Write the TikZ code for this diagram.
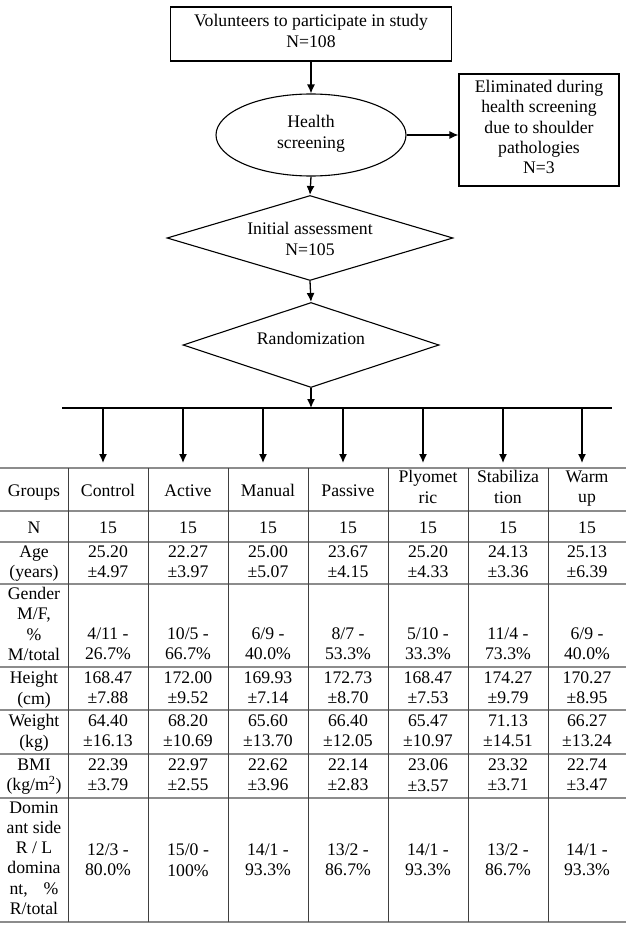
\documentclass[tikz,border=0pt]{standalone}
\usepackage{fontspec}
\setmainfont{Liberation Serif}
\usetikzlibrary{shapes.geometric,arrows.meta,calc}
\begin{document}
\begin{tikzpicture}[x=1pt,y=-1pt,
  every node/.style={font=\fontsize{17.7}{20.3}\selectfont, align=center, inner sep=0pt,
    execute at begin node={\rule{0pt}{18.2pt}}, execute at end node=\strut},
  boxed/.style={draw, line width=1.1pt},
  arr/.style={line width=1.3pt, -{Latex[length=9pt,width=8pt]}},
  busline/.style={line width=1.3pt},
  hline/.style={draw=black!45, line width=1.6pt},
  vline/.style={draw=black!75, line width=1pt}]
\useasboundingbox (0,0) rectangle (626,931);

% flowchart
\node[boxed, minimum width=281pt, minimum height=54pt] (vol) at (311,34) {Volunteers to participate in study\\N=108};
\node[boxed, ellipse, minimum width=190pt, minimum height=82pt] (hs) at (311,135) {Health\\screening};
\node[boxed, minimum width=160pt, minimum height=112pt] (elim) at (539,130) {Eliminated during\\health screening\\due to shoulder\\pathologies\\N=3};
\node[boxed, diamond, minimum width=286pt, minimum height=85pt, execute at begin node={}, execute at end node={}] (ia) at (310,238) {};
\node (iat) at (310,242) {Initial assessment\\N=105};
\node[boxed, diamond, minimum width=256pt, minimum height=85pt, execute at begin node={}, execute at end node={}] (rand) at (311,345) {};
\node (randt) at (311,338) {Randomization};

\draw[arr] (vol.south) -- (hs.north);
\draw[arr] (hs.east) -- (hs.east -| elim.west);
\draw[arr] (hs.south) -- (ia.north);
\draw[arr] (ia.south) -- (rand.north);
\coordinate (busL) at (62,408);
\coordinate (busR) at (612,408);
\coordinate (tabtop) at (0,463);
\draw[busline] (busL) -- (busR);
\draw[arr] (rand.south) -- (rand.south |- busL);

% table lines
\foreach \y in {468,511,542,584,667,710,754,798,922}
  \draw[hline] (0,\y) -- (626,\y);
\foreach \x in {68,148,228,308,388,468,548}
  \draw[vline] (\x,468) -- (\x,922);

% header
\foreach \cx/\t [count=\i] in {34/Groups,108/Control,188/Active,268/Manual,348/Passive,428/{Plyomet\\ric},508/{Stabiliza\\tion},587/{Warm\\up}}
  \node (h\i) at (\cx,490) {\t};

\foreach \i in {2,...,8}
  \draw[arr] ($(busL -| h\i)+(-5,0)$) -- ($(tabtop -| h\i)+(-5,0)$);

% N row
\foreach \cx/\t [count=\i] in {34/N,108/15,188/15,268/15,348/15,428/15,508/15,587/15}
  \node (n\i) at (\cx,527) {\t};

% Age row
\foreach \cx/\t [count=\i] in {34/{Age\\(years)},108/{25.20\\±4.97},188/{22.27\\±3.97},268/{25.00\\±5.07},348/{23.67\\±4.15},428/{25.20\\±4.33},508/{24.13\\±3.36},587/{25.13\\±6.39}}
  \node (age\i) at (\cx,565) {\t};

% Gender row
\node (gen1) at (34,627) {Gender\\M/F,\\\%\\M/total};
\foreach \cx/\t [count=\i from 2] in {108/{4/11 -\\26.7\%},188/{10/5 -\\66.7\%},268/{6/9 -\\40.0\%},348/{8/7 -\\53.3\%},428/{5/10 -\\33.3\%},508/{11/4 -\\73.3\%},587/{6/9 -\\40.0\%}}
  \node (gen\i) at (\cx,647) {\t};

% Height row
\foreach \cx/\t [count=\i] in {34/{Height\\(cm)},108/{168.47\\±7.88},188/{172.00\\±9.52},268/{169.93\\±7.14},348/{172.73\\±8.70},428/{168.47\\±7.53},508/{174.27\\±9.79},587/{170.27\\±8.95}}
  \node (hei\i) at (\cx,691) {\t};

% Weight row
\foreach \cx/\t [count=\i] in {34/{Weight\\(kg)},108/{64.40\\±16.13},188/{68.20\\±10.69},268/{65.60\\±13.70},348/{66.40\\±12.05},428/{65.47\\±10.97},508/{71.13\\±14.51},587/{66.27\\±13.24}}
  \node (wei\i) at (\cx,734) {\t};

% BMI row
\foreach \cx/\t [count=\i] in {34/{BMI\\(kg/m\textsuperscript{2})},108/{22.39\\±3.79},188/{22.97\\±2.55},268/{22.62\\±3.96},348/{22.14\\±2.83},428/{23.06\\±3.57},508/{23.32\\±3.71},587/{22.74\\±3.47}}
  \node (bmi\i) at (\cx,778) {\t};

% Dominant row
\node (dom1) at (34,861) {Domin\\ant side\\R / L\\domina\\nt,\hspace{16pt}\%\\R/total};
\foreach \cx/\t [count=\i from 2] in {108/{12/3 -\\80.0\%},188/{15/0 -\\100\%},268/{14/1 -\\93.3\%},348/{13/2 -\\86.7\%},428/{14/1 -\\93.3\%},508/{13/2 -\\86.7\%},587/{14/1 -\\93.3\%}}
  \node (dom\i) at (\cx,863) {\t};
\end{tikzpicture}
\end{document}
